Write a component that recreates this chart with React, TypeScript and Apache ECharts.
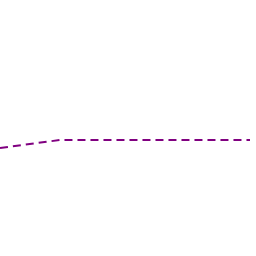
import React, { useEffect, useRef } from "react";
import * as echarts from "echarts";

const xValues = [0, 60, 250];
const yValues = [108, 116, 116];

export default function App() {
  const ref = useRef<HTMLDivElement>(null);
  useEffect(() => {
    if (!ref.current) return;
    const chart = echarts.init(ref.current, null, { renderer: "svg" });
    chart.setOption({
      animation: false,
      grid: { left: 0, right: 6, top: 0, bottom: 0 },
      xAxis: { type: "value", min: 0, max: 250, show: false },
      yAxis: { type: "value", min: 0, max: 256, show: false },
      series: [
        {
          type: "line",
          data: xValues.map((x, i) => [x, yValues[i]]),
          symbol: "none",
          lineStyle: { color: "#800080", width: 2, type: [8, 5] },
        },
      ],
    });
    return () => chart.dispose();
  }, []);
  return (
    <div
      ref={ref}
      style={{ position: "fixed", left: 0, top: 0, width: 256, height: 256 }}
    />
  );
}
